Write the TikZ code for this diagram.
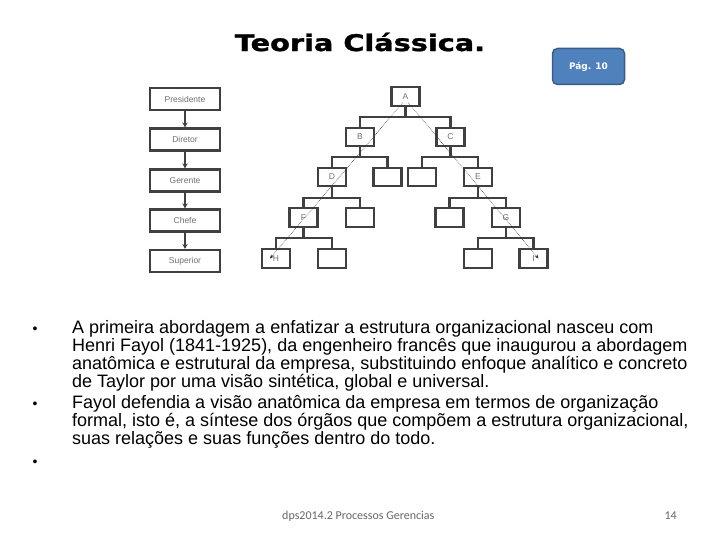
\documentclass[tikz,border=0pt]{standalone}
\usepackage{fontspec}
\setmainfont{Liberation Sans}
\newfontfamily\titlefont[FakeBold=1.2]{DejaVu Sans}
\newfontfamily\btnfont{DejaVu Sans}
\newfontfamily\footfont{Carlito}
\usetikzlibrary{arrows.meta}
\definecolor{linegray}{HTML}{404040}
\definecolor{labgray}{HTML}{707070}
\definecolor{btnfill}{HTML}{4F81BD}
\definecolor{btnedge}{HTML}{385D8A}
\tikzset{
  chainbox/.style={draw=linegray, line width=2.2pt, minimum width=70pt, minimum height=22pt, inner sep=0pt, font=\fontsize{8.5}{9}\selectfont, text=labgray},
  treebox/.style={draw=linegray, line width=2.2pt, minimum width=28pt, minimum height=18.5pt, inner sep=0pt, font=\fontsize{8.5}{9}\selectfont, text=labgray},
  chainarrow/.style={draw=linegray, line width=2.2pt, -{Stealth[length=5pt,width=5.5pt]}},
  treeline/.style={draw=linegray, line width=2.2pt},
  dashline/.style={draw=black!80, line width=0.6pt, densely dotted, -{Stealth[length=4pt,width=3.5pt]}},
  bodyline/.style={anchor=base west, inner sep=0pt, font=\fontsize{18}{20}\selectfont},
  bulletdot/.style={anchor=base, inner sep=0pt, font=\fontsize{14}{16}\selectfont},
}
\begin{document}
\begin{tikzpicture}[x=1pt,y=-1pt]
\useasboundingbox (0,0) rectangle (720,540);
% title
\node[font=\titlefont\bfseries\fontsize{23}{26}\selectfont, inner sep=0pt] (title) at (360,42) {\scalebox{1.25}[1]{Teoria Clássica.}};
\node[draw=btnedge, line width=1.5pt, fill=btnfill, rounded corners=5pt, minimum width=72pt, minimum height=36pt, inner sep=0pt, text=white, font=\btnfont\bfseries\fontsize{9}{11}\selectfont] (pag) at (588.5,66.5) {Pág. 10};
% left chain
\node[chainbox] (pres) at (185,99) {Presidente};
\node[chainbox] (dir) at (185,139.5) {Diretor};
\node[chainbox] (ger) at (185,180.5) {Gerente};
\node[chainbox] (che) at (185,220.5) {Chefe};
\node[chainbox] (sup) at (185,261) {Superior};
\draw[chainarrow] (pres) -- (dir);
\draw[chainarrow] (dir) -- (ger);
\draw[chainarrow] (ger) -- (che);
\draw[chainarrow] (che) -- (sup);
% tree
\node[treebox] (A) at (405.5,96.5) {A};
\node[treebox] (B) at (360,137) {B};
\node[treebox] (C) at (450.5,137) {C};
\node[treebox] (D) at (332,177) {D};
\node[treebox] (x1) at (387.5,177) {};
\node[treebox] (x2) at (422,177) {};
\node[treebox] (E) at (478,177) {E};
\node[treebox] (F) at (303.5,217.5) {F};
\node[treebox] (x3) at (360,217.5) {};
\node[treebox] (x4) at (449.5,217.5) {};
\node[treebox] (G) at (506,217.5) {G};
\node[treebox] (H) at (276,258.5) {H};
\node[treebox] (x5) at (332,258.5) {};
\node[treebox] (x6) at (478,258.5) {};
\node[treebox] (I) at (533.5,258.5) {I};
\coordinate (barA) at (405.5,117);
\coordinate (barB) at (360,157);
\coordinate (barC) at (450.5,157);
\coordinate (barD) at (332,198);
\coordinate (barE) at (478,198);
\coordinate (barF) at (303.5,238);
\coordinate (barG) at (506,238);
\draw[treeline] (A.south) -- (barA);
\draw[treeline] (B.north) |- (barA) -| (C.north);
\draw[treeline] (B.south) -- (barB);
\draw[treeline] (D.north) |- (barB) -| (x1.north);
\draw[treeline] (C.south) -- (barC);
\draw[treeline] (x2.north) |- (barC) -| (E.north);
\draw[treeline] (D.south) -- (barD);
\draw[treeline] (F.north) |- (barD) -| (x3.north);
\draw[treeline] (E.south) -- (barE);
\draw[treeline] (x4.north) |- (barE) -| (G.north);
\draw[treeline] (F.south) -- (barF);
\draw[treeline] (H.north) |- (barF) -| (x5.north);
\draw[treeline] (G.south) -- (barG);
\draw[treeline] (x6.north) |- (barG) -| (I.north);
\draw[dashline] ([xshift=-3pt,yshift=4pt]A.south) -- ([xshift=-6pt]H.center);
\draw[dashline] ([xshift=3pt,yshift=4pt]A.south) -- ([xshift=5pt]I.center);
% body text
\node[bulletdot] (b1) at (35,333) {•};
\node[bodyline] (l1) at (72,333) {A primeira abordagem a enfatizar a estrutura organizacional nasceu com};
\node[bodyline] (l2) at (72,351) {Henri Fayol (1841-1925), da engenheiro francês que inaugurou a abordagem};
\node[bodyline] (l3) at (72,369) {anatômica e estrutural da empresa, substituindo enfoque analítico e concreto};
\node[bodyline] (l4) at (72,387) {de Taylor por uma visão sintética, global e universal.};
\node[bulletdot] (b2) at (35,408) {•};
\node[bodyline] (l5) at (72,408) {Fayol defendia a visão anatômica da empresa em termos de organização};
\node[bodyline] (l6) at (72,426) {formal, isto é, a síntese dos órgãos que compõem a estrutura organizacional,};
\node[bodyline] (l7) at (72,444) {suas relações e suas funções dentro do todo.};
\node[bulletdot] (b3) at (35,466) {•};
% footer
\node[anchor=base west, inner sep=0pt, text=black!60, font=\footfont\fontsize{12}{14}\selectfont] (foot) at (282,519) {dps2014.2 Processos Gerencias};
\node[anchor=base east, inner sep=0pt, text=black!60, font=\footfont\fontsize{12}{14}\selectfont] (pnum) at (677,519) {14};
\end{tikzpicture}
\end{document}
